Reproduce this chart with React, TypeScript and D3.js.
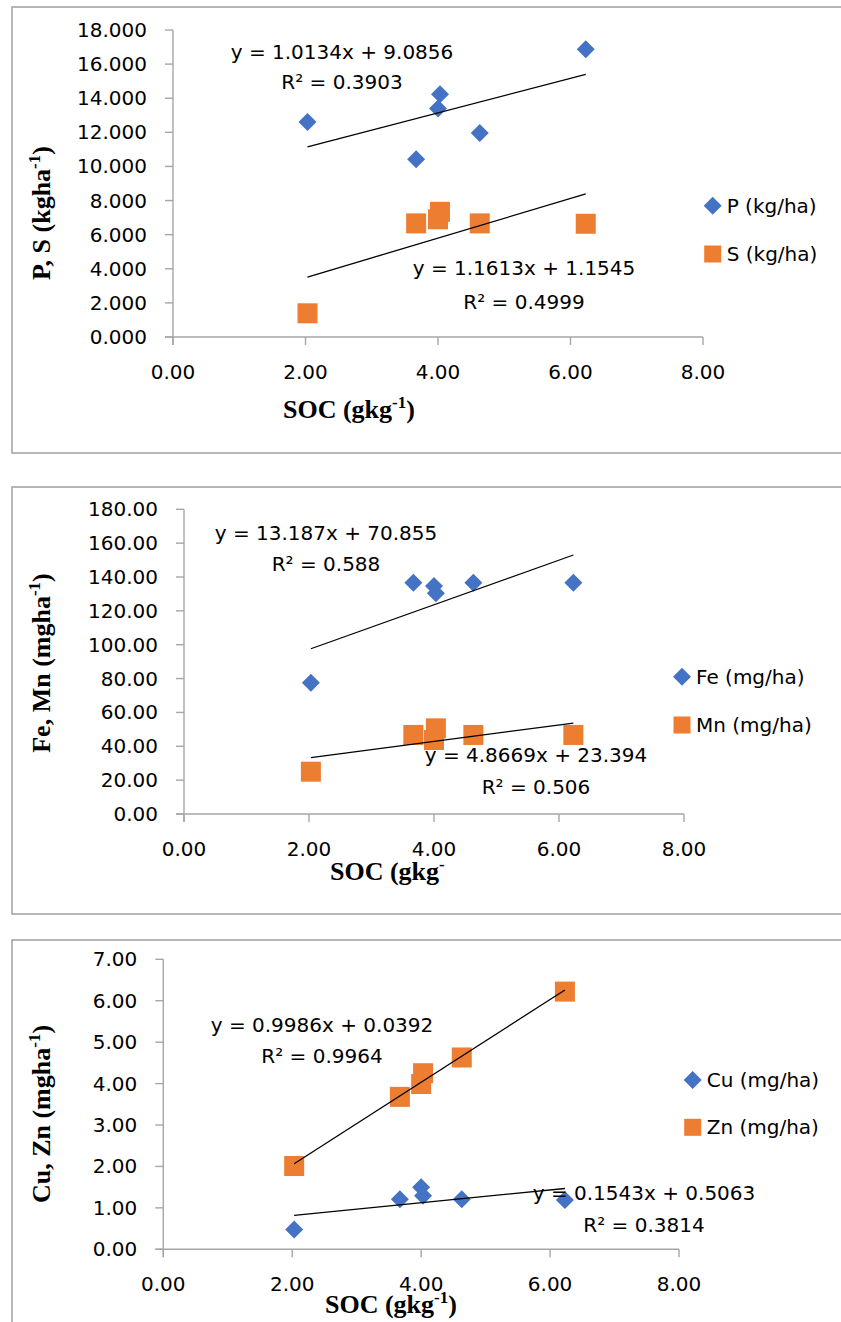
import React from "react";
import * as d3 from "d3";

// ---------- data ----------
const socValues = [2.03, 3.67, 4.0, 4.03, 4.63, 6.23];

const pValues = [12.6, 10.42, 13.4, 14.24, 11.96, 16.87];
const sValues = [1.39, 6.66, 6.9, 7.34, 6.66, 6.64];

const feValues = [77.6, 136.6, 134.7, 130.4, 136.6, 136.6];
const mnValues = [25.0, 46.7, 43.7, 50.6, 46.7, 46.7];

const cuValues = [0.48, 1.21, 1.5, 1.29, 1.21, 1.19];
const znValues = [2.01, 3.68, 3.99, 4.25, 4.63, 6.22];

const seriesNames = [
  ["P (kg/ha)", "S (kg/ha)"],
  ["Fe (mg/ha)", "Mn (mg/ha)"],
  ["Cu (mg/ha)", "Zn (mg/ha)"],
];

// trendline coefficients [slope, intercept] as printed on the chart
const trendCoefs = [
  [[1.0134, 9.0856], [1.1613, 1.1545]],
  [[13.187, 70.855], [4.8669, 23.394]],
  [[0.1543, 0.5063], [0.9986, 0.0392]],
];
const equationTexts = [
  [["y = 1.0134x + 9.0856", "R² = 0.3903"], ["y = 1.1613x + 1.1545", "R² = 0.4999"]],
  [["y = 13.187x + 70.855", "R² = 0.588"], ["y = 4.8669x + 23.394", "R² = 0.506"]],
  [["y = 0.1543x + 0.5063", "R² = 0.3814"], ["y = 0.9986x + 0.0392", "R² = 0.9964"]],
];

const xTicks = [0, 2, 4, 6, 8];
const yTickSets = [
  [0, 2, 4, 6, 8, 10, 12, 14, 16, 18],
  [0, 20, 40, 60, 80, 100, 120, 140, 160, 180],
  [0, 1, 2, 3, 4, 5, 6, 7],
];
const yTickFormats = [".3f", ".2f", ".2f"];
const yTitles = [
  ["P, S (kgha", "-1", ")"],
  ["Fe, Mn (mgha", "-1", ")"],
  ["Cu, Zn (mgha", "-1", ")"],
];
const xTitles = [
  ["SOC (gkg", "-1", ")"],
  ["SOC (gkg", "-", ""],
  ["SOC (gkg", "-1", ")"],
];

// ---------- layout ----------
const BLUE = "#4472C4";
const ORANGE = "#ED7D31";
const AXIS = "#A6A6A6";
const SANS = "'DejaVu Sans', sans-serif";
const SERIF = "'Liberation Serif', 'Times New Roman', serif";

const panels = [
  {
    box: { x: 12, y: 7, w: 860, h: 446 },
    plot: { left: 173, right: 703, top: 30, bottom: 337 },
    yMax: 18,
    xTitle: { x: 283, y: 418 },
    yTitleCy: 213,
    legend: { x: 712.7, y1: 205.7, y2: 254 },
    eqPos: [[342, 52, 82], [524, 268, 302]],
  },
  {
    box: { x: 12, y: 487, w: 860, h: 427 },
    plot: { left: 184, right: 684, top: 509.3, bottom: 814 },
    yMax: 180,
    xTitle: { x: 330, y: 880 },
    yTitleCy: 663,
    legend: { x: 682, y1: 676.7, y2: 725 },
    eqPos: [[326, 533, 564], [536, 755, 787]],
  },
  {
    box: { x: 12, y: 940, w: 860, h: 420 },
    plot: { left: 163.3, right: 679, top: 959.3, bottom: 1249.3 },
    yMax: 7,
    xTitle: { x: 325, y: 1313 },
    yTitleCy: 1114,
    legend: { x: 692.7, y1: 1080, y2: 1127.3 },
    eqPos: [[644, 1193, 1225], [322, 1025, 1056]],
  },
];

const panelSeries = [
  [pValues, sValues],
  [feValues, mnValues],
  [cuValues, znValues],
];

const diamondPath = (cx: number, cy: number, r: number) =>
  `M${cx},${cy - r}L${cx + r},${cy}L${cx},${cy + r}L${cx - r},${cy}Z`;

function Panel({ idx }: { idx: number }) {
  const cfg = panels[idx];
  const { plot } = cfg;
  const x = d3.scaleLinear().domain([0, 8]).range([plot.left, plot.right]);
  const y = d3.scaleLinear().domain([0, cfg.yMax]).range([plot.bottom, plot.top]);
  const fmtY = d3.format(yTickFormats[idx]);
  const fmtX = d3.format(".2f");
  const [s1, s2] = panelSeries[idx];
  const xMin = d3.min(socValues) as number;
  const xMax = d3.max(socValues) as number;
  const yt = yTitles[idx];
  const xt = xTitles[idx];

  return (
    <g>
      <rect
        x={cfg.box.x}
        y={cfg.box.y}
        width={cfg.box.w}
        height={cfg.box.h}
        fill="#fff"
        stroke="#A0A0A0"
        strokeWidth={1.5}
      />
      {/* axes */}
      <line x1={plot.left} x2={plot.left} y1={plot.top} y2={plot.bottom + 8} stroke={AXIS} strokeWidth={1.4} />
      <line x1={plot.left - 8} x2={plot.right} y1={plot.bottom} y2={plot.bottom} stroke={AXIS} strokeWidth={1.4} />
      {yTickSets[idx].map((t) => (
        <g key={"y" + t}>
          <line x1={plot.left - 8} x2={plot.left} y1={y(t)} y2={y(t)} stroke={AXIS} strokeWidth={1.4} />
          <text x={plot.left - 26} y={y(t) + 7} textAnchor="end" fontFamily={SANS} fontSize={20} fill="#000">
            {fmtY(t)}
          </text>
        </g>
      ))}
      {xTicks.map((t) => (
        <g key={"x" + t}>
          <line x1={x(t)} x2={x(t)} y1={plot.bottom} y2={plot.bottom + 8} stroke={AXIS} strokeWidth={1.4} />
          <text x={x(t)} y={plot.bottom + 42} textAnchor="middle" fontFamily={SANS} fontSize={20} fill="#000">
            {fmtX(t)}
          </text>
        </g>
      ))}
      {/* markers */}
      {s1.map((v, i) => (
        <path key={"d" + i} d={diamondPath(x(socValues[i]), y(v), 9)} fill={BLUE} />
      ))}
      {s2.map((v, i) => (
        <rect key={"s" + i} x={x(socValues[i]) - 10} y={y(v) - 10} width={20} height={20} fill={ORANGE} />
      ))}
      {/* trendlines */}
      {trendCoefs[idx].map(([m, b], k) => (
        <line
          key={"t" + k}
          x1={x(xMin)}
          y1={y(m * xMin + b)}
          x2={x(xMax)}
          y2={y(m * xMax + b)}
          stroke="#000"
          strokeWidth={1.3}
        />
      ))}
      {/* equations */}
      {equationTexts[idx].map(([eq, r2], k) => {
        const [cx, ey, ry] = cfg.eqPos[k];
        return (
          <g key={"e" + k} fontFamily={SANS} fontSize={20} fill="#000" textAnchor="middle">
            <text x={cx} y={ey + 7}>{eq}</text>
            <text x={cx} y={ry + 7}>{r2}</text>
          </g>
        );
      })}
      {/* legend */}
      <path d={diamondPath(cfg.legend.x, cfg.legend.y1, 9)} fill={BLUE} />
      <text x={cfg.legend.x + 14} y={cfg.legend.y1 + 7} fontFamily={SANS} fontSize={20} fill="#000">
        {seriesNames[idx][0]}
      </text>
      <rect x={cfg.legend.x - 8.5} y={cfg.legend.y2 - 8.5} width={17} height={17} fill={ORANGE} />
      <text x={cfg.legend.x + 14} y={cfg.legend.y2 + 7} fontFamily={SANS} fontSize={20} fill="#000">
        {seriesNames[idx][1]}
      </text>
      {/* axis titles */}
      <text x={cfg.xTitle.x} y={cfg.xTitle.y} fontFamily={SERIF} fontWeight="bold" fontSize={26} fill="#000">
        {xt[0]}
        <tspan fontSize={17} dy={-10}>{xt[1]}</tspan>
        <tspan dy={10}>{xt[2]}</tspan>
      </text>
      <text
        transform={`translate(50,${cfg.yTitleCy}) rotate(-90)`}
        textAnchor="middle"
        fontFamily={SERIF}
        fontWeight="bold"
        fontSize={26}
        fill="#000"
      >
        {yt[0]}
        <tspan fontSize={17} dy={-10}>{yt[1]}</tspan>
        <tspan dy={10}>{yt[2]}</tspan>
      </text>
    </g>
  );
}

export default function App() {
  return (
    <svg
      width={841}
      height={1322}
      style={{ position: "absolute", left: 0, top: 0, background: "#fff" }}
    >
      <rect x={0} y={0} width={841} height={1322} fill="#fff" />
      {panels.map((_, i) => (
        <Panel key={i} idx={i} />
      ))}
    </svg>
  );
}
